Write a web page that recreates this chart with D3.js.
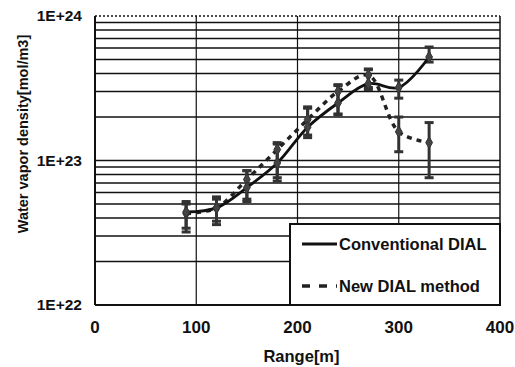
<!DOCTYPE html>
<html>
<head>
<meta charset="UTF-8">
<script src="https://d3js.org/d3.v7.min.js"></script>
<style>
  body { margin: 0; background: #fff; }
  text { font-family: "Liberation Sans", Arial, sans-serif; font-weight: bold; fill: #111; }
</style>
</head>
<body>
<div class="canvas"></div>
<script>
const ranges = [90, 120, 150, 180, 210, 240, 270, 300, 330]
const conventional = [4.4e22, 4.7e22, 6.5e22, 9.6e22, 1.7e23, 2.5e23, 3.4e23, 3.2e23, 5.2e23]
const convLo = [3.2e22, 3.6e22, 5.2e22, 7.2e22, 1.44e23, 2.07e23, 3.1e23, 2.7e23, 4.8e23]
const convHi = [5.2e22, 5.6e22, 8.5e22, 1.33e23, 2.35e23, 3.35e23, 4.25e23, 3.6e23, 6.1e23]
const newMethod = [4.3e22, 4.7e22, 7.4e22, 1.19e23, 1.92e23, 3.0e23, 3.9e23, 1.58e23, 1.33e23]
const newLo = [3.4e22, 3.8e22, 5.4e22, 7.6e22, 1.5e23, 2.1e23, 3.2e23, 1.15e23, 7.6e22]
const newHi = [5.0e22, 5.4e22, 8.5e22, 1.3e23, 2.3e23, 3.3e23, 4.3e23, 2.0e23, 1.83e23]
const xTicks = [0, 100, 200, 300, 400]
const yTicks = [1e22, 1e23, 1e24]
const yLabels = ['1E+22', '1E+23', '1E+24']
const legendNames = ['Conventional DIAL', 'New DIAL method']

const width = 515, height = 367
const [mt, mr, mb, ml] = [16, 15, 62, 95]
const w = width - ml - mr
const h = height - mt - mb

const svg = d3.select('.canvas').append('svg')
  .attr('width', width).attr('height', height)
const g = svg.append('g').attr('transform', `translate(${ml},${mt})`)

const x = d3.scaleLinear().domain([0, 400]).range([0, w])
const y = d3.scaleLog().domain([1e22, 1e24]).range([h, 0])

// horizontal grid (every log minor step)
const minor = []
for (let e = 22; e < 24; e++) for (let k = 1; k < 10; k++) minor.push(k * Math.pow(10, e))
g.selectAll('.hgrid').data(minor.filter(v => v > 1e22)).enter().append('line')
  .attr('x1', 0).attr('x2', w)
  .attr('y1', d => y(d)).attr('y2', d => y(d))
  .attr('stroke', '#111').attr('stroke-width', 1.5)

// top border dotted
g.append('line').attr('x1', 0).attr('x2', w).attr('y1', y(1e24)).attr('y2', y(1e24))
  .attr('stroke', '#111').attr('stroke-width', 1.5).attr('stroke-dasharray', '2,2')

// vertical grid
g.selectAll('.vgrid').data(xTicks.slice(1)).enter().append('line')
  .attr('x1', d => x(d)).attr('x2', d => x(d))
  .attr('y1', 0).attr('y2', h)
  .attr('stroke', '#111').attr('stroke-width', d => d === 400 ? 1.5 : 1.2)

// axes lines
g.append('line').attr('x1', 0).attr('x2', 0).attr('y1', 0).attr('y2', h)
  .attr('stroke', '#111').attr('stroke-width', 2)
g.append('line').attr('x1', 0).attr('x2', w).attr('y1', h).attr('y2', h)
  .attr('stroke', '#111').attr('stroke-width', 2)

// tick labels
g.selectAll('.xt').data(xTicks).enter().append('text')
  .attr('x', d => x(d)).attr('y', h + 28)
  .attr('text-anchor', 'middle').style('font-size', '17px')
  .text(d => d)
g.selectAll('.yt').data(yTicks).enter().append('text')
  .attr('x', -13).attr('y', d => y(d) + 5)
  .attr('text-anchor', 'end').style('font-size', '15.5px')
  .text((d, i) => yLabels[i])

// axis titles
svg.append('text').attr('x', ml + w / 2 + 4).attr('y', 362)
  .attr('text-anchor', 'middle').style('font-size', '16.5px').text('Range[m]')
svg.append('text').attr('transform', `translate(28,${mt + 118}) rotate(-90)`)
  .attr('text-anchor', 'middle').style('font-size', '14.5px').text('Water vapor density[mol/m3]')

// data
const conv = ranges.map((r, i) => ({ r, v: conventional[i], lo: convLo[i], hi: convHi[i] }))
const nw = ranges.map((r, i) => ({ r, v: newMethod[i], lo: newLo[i], hi: newHi[i] }))

const line = d3.line()
  .x(d => x(d.r)).y(d => y(d.v))
  .curve(d3.curveCatmullRom.alpha(0.5))

function errorBars(data) {
  const eb = g.append('g')
  eb.selectAll('.bar').data(data).enter().append('line')
    .attr('x1', d => x(d.r)).attr('x2', d => x(d.r))
    .attr('y1', d => y(d.lo)).attr('y2', d => y(d.hi))
    .attr('stroke', '#333').attr('stroke-width', 3)
  eb.selectAll('.capt').data(data).enter().append('line')
    .attr('x1', d => x(d.r) - 4.5).attr('x2', d => x(d.r) + 4.5)
    .attr('y1', d => y(d.hi)).attr('y2', d => y(d.hi))
    .attr('stroke', '#333').attr('stroke-width', 3)
  eb.selectAll('.capb').data(data).enter().append('line')
    .attr('x1', d => x(d.r) - 4.5).attr('x2', d => x(d.r) + 4.5)
    .attr('y1', d => y(d.lo)).attr('y2', d => y(d.lo))
    .attr('stroke', '#333').attr('stroke-width', 3)
}
errorBars(nw)
errorBars(conv)

g.append('path').attr('d', line(nw))
  .attr('fill', 'none').attr('stroke', '#222').attr('stroke-width', 3.5)
  .attr('stroke-dasharray', '5,5')
g.append('path').attr('d', line(conv))
  .attr('fill', 'none').attr('stroke', '#111').attr('stroke-width', 2.8)

function markers(data) {
  g.append('g').selectAll('path').data(data).enter().append('path')
    .attr('d', d3.symbol().type(d3.symbolDiamond).size(40))
    .attr('transform', d => `translate(${x(d.r)},${y(d.v)})`)
    .attr('fill', '#444').attr('stroke', '#333').attr('stroke-width', 1)
}
markers(nw)
markers(conv)

// legend
const lg = svg.append('g').attr('transform', 'translate(290,224)')
lg.append('rect').attr('width', 210).attr('height', 81)
  .attr('fill', '#fff').attr('stroke', '#111').attr('stroke-width', 2)
lg.append('line').attr('x1', 12).attr('x2', 47).attr('y1', 20).attr('y2', 20)
  .attr('stroke', '#111').attr('stroke-width', 2.8)
lg.append('line').attr('x1', 12).attr('x2', 47).attr('y1', 62).attr('y2', 62)
  .attr('stroke', '#222').attr('stroke-width', 3.5).attr('stroke-dasharray', '8,9')
lg.selectAll('.lt').data(legendNames).enter().append('text')
  .attr('x', 49).attr('y', (d, i) => 26 + i * 42)
  .style('font-size', '16.5px').text(d => d)
</script>
</body>
</html>
